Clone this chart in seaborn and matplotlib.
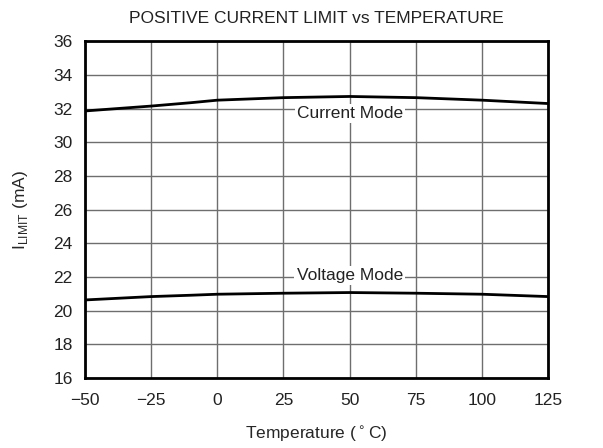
import matplotlib
matplotlib.use("Agg")
import matplotlib.pyplot as plt
import seaborn as sns
import pandas as pd

# Values
temperature = [-50, -25, -10, 0, 25, 50, 75, 100, 125]
current_mode = [31.86, 32.15, 32.35, 32.5, 32.65, 32.72, 32.65, 32.5, 32.3]
voltage_mode = [20.64, 20.84, 20.92, 20.98, 21.04, 21.08, 21.04, 20.98, 20.84]

x_ticks = [-50, -25, 0, 25, 50, 75, 100, 125]
y_ticks = [16, 18, 20, 22, 24, 26, 28, 30, 32, 34, 36]

sns.set_style("white")
plt.rcParams['font.family'] = ['Liberation Sans', 'DejaVu Sans']
plt.rcParams['text.color'] = '#222222'

df = pd.DataFrame({
    'Temperature': temperature * 2,
    'ILimit': current_mode + voltage_mode,
    'Mode': ['Current Mode'] * len(temperature) + ['Voltage Mode'] * len(temperature),
})

fig = plt.figure(figsize=(6.03, 4.48), dpi=100)
ax = fig.add_axes([0.141, 0.156, 0.768, 0.752])

sns.lineplot(data=df, x='Temperature', y='ILimit', hue='Mode',
             palette=['black', 'black'], linewidth=2, legend=False, ax=ax)

fs = 12.5
ax.set_xlim(-50, 125)
ax.set_ylim(16, 36)
ax.set_xticks(x_ticks)
ax.set_xticklabels([str(t).replace('-', '\u2212') for t in x_ticks])
ax.set_yticks(y_ticks)
ax.grid(True, color='#6e6e6e', linewidth=1)
ax.tick_params(axis='both', length=0, labelsize=fs, labelcolor='#222222')
ax.tick_params(axis='x', pad=11)
ax.tick_params(axis='y', pad=9)
for s in ax.spines.values():
    s.set_visible(True)
    s.set_color('black')
    s.set_linewidth(2)

# Curve labels sitting on the gridlines
for label, yv in [('Current Mode', 31.7), ('Voltage Mode', 22.1)]:
    ax.text(50, yv, label, ha='center', va='center', fontsize=fs,
            bbox=dict(facecolor='white', edgecolor='none', pad=1.5))

ax.set_title('POSITIVE CURRENT LIMIT vs TEMPERATURE', fontsize=fs, pad=13)
ax.set_xlabel('Temperature ($^\\circ$C)', fontsize=fs, labelpad=11)
ax.set_ylabel('I$_{\\mathregular{LIMIT}}$ (mA)', fontsize=fs, labelpad=17)

fig.savefig('out.png', dpi=100)
